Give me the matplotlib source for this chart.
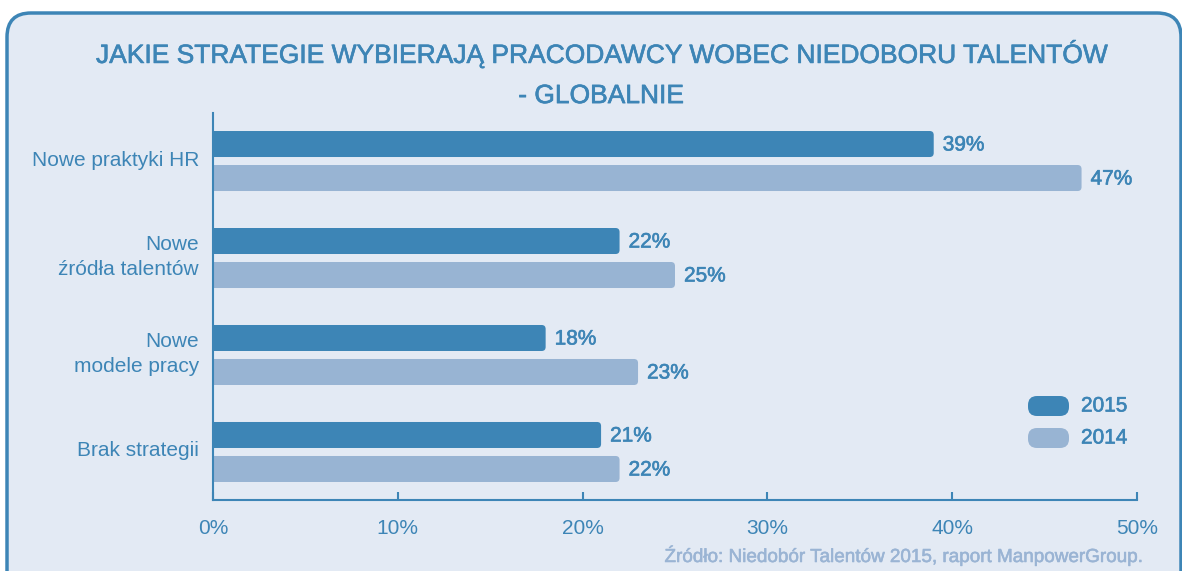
import matplotlib
matplotlib.use("Agg")
import matplotlib.pyplot as plt
import matplotlib.patheffects as pe
from matplotlib.patches import FancyBboxPatch
from matplotlib.transforms import IdentityTransform

# data
categories = ["Nowe praktyki HR", "Nowe\nźródła talentów", "Nowe\nmodele pracy", "Brak strategii"]
vals_2015 = [39, 22, 18, 21]
vals_2014 = [47, 25, 23, 22]
series_names = ["2015", "2014"]
xticks = [0, 10, 20, 30, 40, 50]

title = "JAKIE STRATEGIE WYBIERAJĄ PRACODAWCY WOBEC NIEDOBORU TALENTÓW\n- GLOBALNIE"
source = "Źródło: Niedobór Talentów 2015, raport ManpowerGroup."

BLUE = "#3d85b6"
LIGHT = "#98b4d3"
BG = "#e3eaf4"
SRC = "#9ab4d4"

plt.rcParams["font.family"] = ["Liberation Sans", "DejaVu Sans"]
medium = [pe.withStroke(linewidth=0.45, foreground=BLUE)]

W, H = 1182, 571
fig = plt.figure(figsize=(W / 100, H / 100), dpi=100)
fig.patch.set_facecolor("white")

# rounded panel behind everything
frame = FancyBboxPatch((7, -40), W - 8, H - 13 + 40,
                       boxstyle="round,pad=0,rounding_size=24",
                       transform=IdentityTransform(), fc=BG, ec=BLUE, lw=2.5, zorder=-5)
fig.patches.append(frame)

ax = fig.add_axes([213 / W, 71 / H, 924 / W, 387 / H])
ax.set_facecolor("none")
ax.set_zorder(2)
ax.set_xlim(0, 50)
ax.set_ylim(3.495, -0.495)

px_x = 924 / 50      # pixels per percent
px_y = 387 / 3.99    # pixels per category unit
bar_h = 26 / px_y
off = 17 / px_y
r = 4 / px_x
asp = px_x / px_y

for i, cat in enumerate(categories):
    for val, dy, col in [(vals_2015[i], -off, BLUE), (vals_2014[i], off, LIGHT)]:
        y0 = i + dy - bar_h / 2
        ax.add_patch(FancyBboxPatch((-r * 2, y0), val + r * 2, bar_h,
                                    boxstyle=f"round,pad=0,rounding_size={r}",
                                    mutation_aspect=asp, fc=col, ec="none", zorder=2))
        ax.text(val + 9 / px_x, i + dy + 1 / px_y, f"{val}%", va="center", ha="left",
                fontsize=15, color=BLUE, path_effects=medium)
    ax.text(-14 / px_x, i - 1 / px_y, cat, ha="right", va="center", fontsize=15,
            color=BLUE, linespacing=1.45)

for s in ["top", "right"]:
    ax.spines[s].set_visible(False)
for s in ["left", "bottom"]:
    ax.spines[s].set_color(BLUE)
    ax.spines[s].set_linewidth(1.5)
    ax.spines[s].set_zorder(3)

ax.set_xticks(xticks)
ax.set_xticklabels([f"{t}%" for t in xticks])
ax.set_yticks([])
ax.tick_params(axis="x", direction="in", length=6, width=1.5, color=BLUE,
               labelcolor=BLUE, labelsize=15, pad=14)

fig.text(601 / W, 1 - 74 / H, title, ha="center", va="center", fontsize=19,
         color=BLUE, linespacing=1.85, path_effects=medium)

# legend pills
for name, col, yc in [(series_names[0], BLUE, 406), (series_names[1], LIGHT, 438)]:
    fig.patches.append(FancyBboxPatch((1028, H - yc - 10), 41, 20,
                                      boxstyle="round,pad=0,rounding_size=9",
                                      transform=IdentityTransform(), fc=col, ec="none"))
    fig.text(1081 / W, 1 - yc / H, name, ha="left", va="center", fontsize=15,
             color=BLUE, path_effects=medium)

fig.text(1140 / W, 1 - 556 / H, source, ha="right", va="center", fontsize=13.6,
         color=SRC, path_effects=[pe.withStroke(linewidth=0.4, foreground=SRC)])

fig.savefig("out.png", dpi=100, facecolor=fig.get_facecolor())
